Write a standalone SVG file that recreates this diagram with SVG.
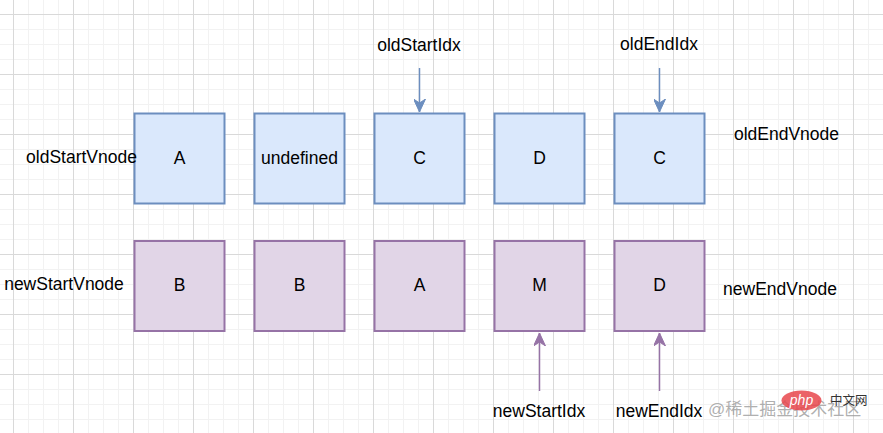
<svg xmlns="http://www.w3.org/2000/svg" width="883" height="433" viewBox="0 0 883 433">
<style>
.lbl{font-family:"Liberation Sans",Arial,sans-serif;font-size:17.5px;fill:#000;text-anchor:middle}
.old rect{fill:#dae8fc;stroke:#6c8ebf;stroke-width:2}
.new rect{fill:#e1d5e7;stroke:#9673a6;stroke-width:2}
.eo{stroke:#6c8ebf;stroke-width:1.5;fill:none}
.en{stroke:#9673a6;stroke-width:1.5;fill:none}
</style>
<defs>
<pattern id="grid" x="13" y="14" width="60" height="60" patternUnits="userSpaceOnUse">
<path d="M15.5 0V60M30.5 0V60M45.5 0V60M0 15.5H60M0 30.5H60M0 45.5H60" stroke="#f2f2f2" stroke-width="1"/>
<path d="M0.5 0V60M0 0.5H60" stroke="#d9d9d9" stroke-width="1"/>
</pattern>
<marker id="ab" viewBox="0 0 14 12" refX="13" refY="6" markerWidth="14" markerHeight="12" markerUnits="userSpaceOnUse" orient="auto">
<path d="M0 0L13 6L0 12L4 6Z" fill="#6c8ebf" stroke="#6c8ebf" stroke-width="1" stroke-linejoin="miter"/>
</marker>
<marker id="ap" viewBox="0 0 14 12" refX="13" refY="6" markerWidth="14" markerHeight="12" markerUnits="userSpaceOnUse" orient="auto">
<path d="M0 0L13 6L0 12L4 6Z" fill="#9673a6" stroke="#9673a6" stroke-width="1" stroke-linejoin="miter"/>
</marker>
</defs>
<rect width="883" height="433" fill="#fff"/>
<rect width="883" height="433" fill="url(#grid)"/>

<g id="connectors">
<path class="eo" d="M419.5 68V112" marker-end="url(#ab)"/>
<path class="eo" d="M659.5 68V112" marker-end="url(#ab)"/>
<path class="en" d="M539.5 391V333" marker-end="url(#ap)"/>
<path class="en" d="M659.5 391V333" marker-end="url(#ap)"/>
</g>

<g id="oldA" class="old"><rect x="134.5" y="113.5" width="90" height="90"/><text class="lbl" x="179.5" y="164">A</text></g>
<g id="oldUndefined" class="old"><rect x="254.5" y="113.5" width="90" height="90"/><text class="lbl" x="299.5" y="164">undefined</text></g>
<g id="oldC" class="old"><rect x="374.5" y="113.5" width="90" height="90"/><text class="lbl" x="419.5" y="164">C</text></g>
<g id="oldD" class="old"><rect x="494.5" y="113.5" width="90" height="90"/><text class="lbl" x="539.5" y="164">D</text></g>
<g id="oldC2" class="old"><rect x="614.5" y="113.5" width="90" height="90"/><text class="lbl" x="659.5" y="164">C</text></g>

<g id="newB" class="new"><rect x="134.5" y="241" width="90" height="90"/><text class="lbl" x="179.5" y="291">B</text></g>
<g id="newB2" class="new"><rect x="254.5" y="241" width="90" height="90"/><text class="lbl" x="299.5" y="291">B</text></g>
<g id="newA" class="new"><rect x="374.5" y="241" width="90" height="90"/><text class="lbl" x="419.5" y="291">A</text></g>
<g id="newM" class="new"><rect x="494.5" y="241" width="90" height="90"/><text class="lbl" x="539.5" y="291">M</text></g>
<g id="newD" class="new"><rect x="614.5" y="241" width="90" height="90"/><text class="lbl" x="659.5" y="291">D</text></g>

<g id="labels">
<text class="lbl" x="419" y="51">oldStartIdx</text>
<text class="lbl" x="659" y="50">oldEndIdx</text>
<text class="lbl" x="81.5" y="163">oldStartVnode</text>
<text class="lbl" x="786.5" y="140">oldEndVnode</text>
<text class="lbl" x="64" y="289.5">newStartVnode</text>
<text class="lbl" x="780" y="294.5">newEndVnode</text>
<text class="lbl" x="539" y="417">newStartIdx</text>
<text class="lbl" x="659" y="417">newEndIdx</text>
</g>

<g id="watermark">
<text x="708" y="415" font-family="'Liberation Sans','Noto Sans CJK SC',sans-serif" font-size="17px" fill="#9a9a9a" fill-opacity="0.8">@稀土掘金技术社区</text>
<ellipse cx="801.5" cy="400.5" rx="20" ry="10" fill="#e8474c" fill-opacity="0.85"/>
<text x="801.5" y="405" font-family="'Liberation Sans',sans-serif" font-size="14px" font-style="italic" fill="#fff" text-anchor="middle">php</text>
<text x="830" y="405" font-family="'Noto Sans CJK SC',sans-serif" font-size="12.5px" fill="#333">中文网</text>
</g>
</svg>
